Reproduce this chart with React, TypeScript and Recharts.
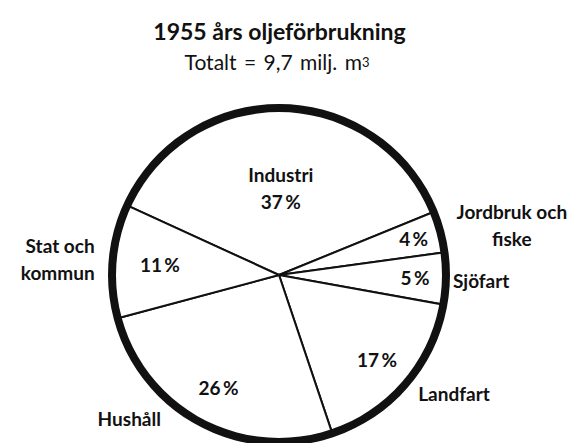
import React from "react"
import { PieChart, Pie, Cell } from "recharts"

const categories = ["Industri", "Jordbruk och fiske", "Sjöfart", "Landfart", "Hushåll", "Stat och kommun"]
const nameLines = [["Industri"], ["Jordbruk och", "fiske"], ["Sjöfart"], ["Landfart"], ["Hushåll"], ["Stat och", "kommun"]]
const shares = [37, 4, 5, 17, 26, 11]

const data = categories.map((name, i) => ({ name, value: shares[i], lines: nameLines[i] }))
const ring = [{ name: "Totalt", value: shares.reduce((a, b) => a + b, 0) }]

// label placement per slice: inner radius factor, outer offsets
const layout = [
  { inR: 0.53, nameInside: true, dx: 0, dy: 0, anchor: "middle" },
  { inR: 0.84, nameInside: false, dx: 59, dy: -4, anchor: "middle" },
  { inR: 0.82, nameInside: false, dx: -6, dy: 1, anchor: "start" },
  { inR: 0.78, nameInside: false, dx: 3, dy: 0, anchor: "start" },
  { inR: 0.77, nameInside: false, dx: -33, dy: -16, anchor: "end" },
  { inR: 0.72, nameInside: false, dx: -5, dy: -1, anchor: "end" },
]

const FONT = "Lato, 'DejaVu Sans', sans-serif"
const RAD = Math.PI / 180
const LH = 27

function renderLabel(props: any) {
  const { cx, cy, midAngle, outerRadius, index, payload } = props
  const lay = layout[index]
  const cos = Math.cos(-midAngle * RAD)
  const sin = Math.sin(-midAngle * RAD)
  const ix = cx + outerRadius * lay.inR * cos
  const iy = cy + outerRadius * lay.inR * sin
  const pct = `${payload.value}\u2009%`
  const lines: string[] = payload.lines ?? payload.payload?.lines ?? []
  const textStyle = { fontFamily: FONT, fontSize: 19, fontWeight: 700, fill: "#111" }

  if (lay.nameInside) {
    const all = [...lines, pct]
    const y0 = iy - ((all.length - 1) * LH) / 2
    return (
      <text x={ix} y={y0} textAnchor="middle" dominantBaseline="central" style={textStyle}>
        {all.map((l, k) => (
          <tspan key={k} x={ix} dy={k === 0 ? 0 : LH}>{l}</tspan>
        ))}
      </text>
    )
  }

  const ox = cx + (outerRadius + 14) * cos + lay.dx
  const oy = cy + (outerRadius + 14) * sin + lay.dy
  const y0 = oy - ((lines.length - 1) * LH) / 2
  return (
    <g>
      <text x={ix} y={iy} textAnchor="middle" dominantBaseline="central" style={textStyle}>{pct}</text>
      <text x={ox} y={y0} textAnchor={lay.anchor as any} dominantBaseline="central" style={textStyle}>
        {lines.map((l, k) => (
          <tspan key={k} x={ox} dy={k === 0 ? 0 : LH}>{l}</tspan>
        ))}
      </text>
    </g>
  )
}

export default function App() {
  return (
    <div style={{ position: "absolute", left: 0, top: 0, width: 582, height: 443, background: "#fff" }}>
      <div style={{ position: "absolute", left: 0, top: 17, width: 559, textAlign: "center", fontFamily: FONT, fontWeight: 700, fontSize: 23, lineHeight: "28px", color: "#111" }}>
        1955 års oljeförbrukning
      </div>
      <div style={{ position: "absolute", left: 0, top: 48, width: 554, textAlign: "center", fontFamily: FONT, fontWeight: 400, fontSize: 21, lineHeight: "28px", color: "#111", wordSpacing: 2 }}>
        Totalt = 9,7 milj. m<span style={{ fontSize: 13, verticalAlign: "3px" }}>3</span>
      </div>
      <PieChart width={582} height={443} style={{ position: "absolute", left: 0, top: 0 }}>
        <Pie
          data={data}
          dataKey="value"
          nameKey="name"
          cx={274}
          cy={270}
          outerRadius={166}
          startAngle={155.4}
          endAngle={155.4 - 360}
          stroke="#111"
          strokeWidth={2}
          label={renderLabel}
          labelLine={false}
          isAnimationActive={false}
        >
          {data.map((d) => (
            <Cell key={d.name} fill="#fff" />
          ))}
        </Pie>
        <Pie
          data={ring}
          dataKey="value"
          cx={274}
          cy={270}
          innerRadius={163}
          outerRadius={171}
          startAngle={90}
          endAngle={-270}
          fill="#111"
          stroke="none"
          isAnimationActive={false}
        />
      </PieChart>
    </div>
  )
}
